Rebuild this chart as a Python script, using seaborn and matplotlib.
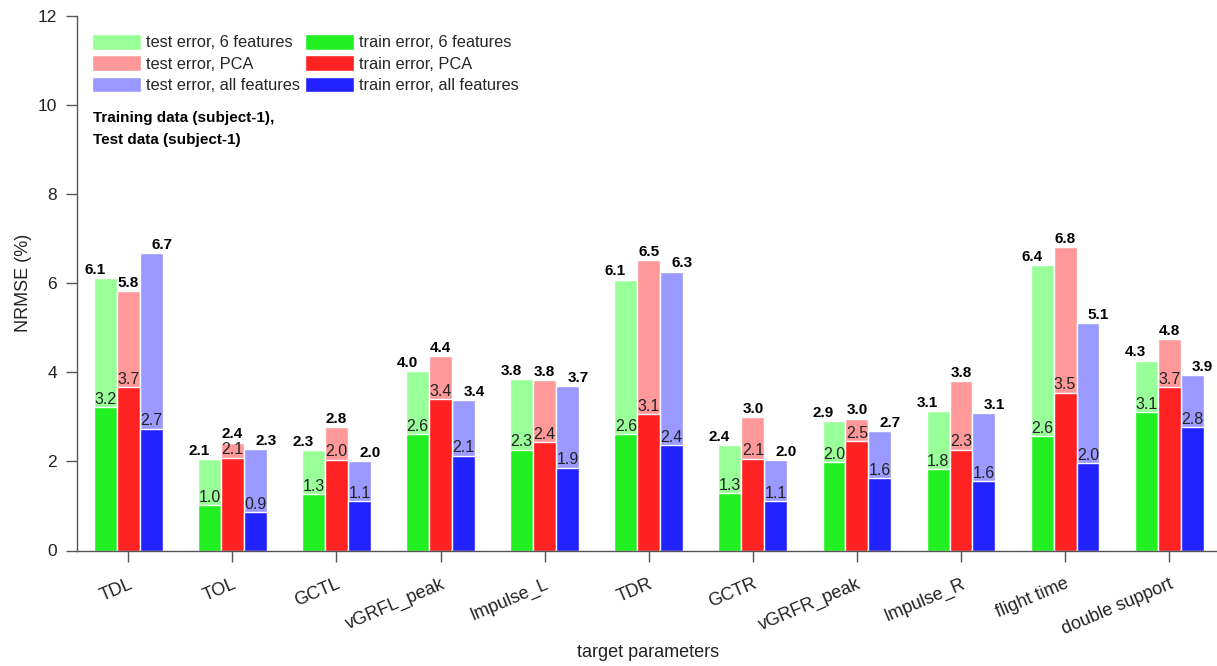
import matplotlib
matplotlib.use("Agg")
import matplotlib.pyplot as plt
import seaborn as sns
import pandas as pd

categories = ["TDL", "TOL", "GCTL", "vGRFL_peak", "Impulse_L", "TDR", "GCTR",
              "vGRFR_peak", "Impulse_R", "flight time", "double support"]

test_6 = [6.12, 2.06, 2.26, 4.02, 3.84, 6.08, 2.36, 2.90, 3.12, 6.41, 4.26]
test_pca = [5.82, 2.42, 2.76, 4.36, 3.82, 6.51, 3.00, 2.96, 3.81, 6.81, 4.75]
test_all = [6.68, 2.28, 2.01, 3.37, 3.69, 6.26, 2.03, 2.68, 3.09, 5.10, 3.93]
train_6 = [3.22, 1.02, 1.26, 2.61, 2.26, 2.61, 1.29, 1.98, 1.82, 2.56, 3.10]
train_pca = [3.66, 2.08, 2.04, 3.39, 2.43, 3.06, 2.06, 2.45, 2.26, 3.54, 3.66]
train_all = [2.73, 0.86, 1.11, 2.13, 1.86, 2.36, 1.10, 1.62, 1.56, 1.96, 2.76]

test_names = ["test error, 6 features", "test error, PCA", "test error, all features"]
train_names = ["train error, 6 features", "train error, PCA", "train error, all features"]
test_colors = ["#99ff99", "#ff9999", "#9999ff"]
train_colors = ["#22f022", "#ff2222", "#2222ff"]

def long_df(names, series):
    rows = []
    for name, vals in zip(names, series):
        for c, v in zip(categories, vals):
            rows.append({"param": c, "method": name, "value": v})
    return pd.DataFrame(rows)

df_test = long_df(test_names, [test_6, test_pca, test_all])
df_train = long_df(train_names, [train_6, train_pca, train_all])

sns.set_theme(style="white")
plt.rcParams["font.family"] = ["Liberation Sans", "DejaVu Sans"]

fig = plt.figure(figsize=(12.17, 6.66), dpi=100)
ax = fig.add_axes([77 / 1217, (666 - 550.5) / 666, (1216 - 77) / 1217, (550.5 - 15.7) / 666])

sns.barplot(data=df_test, x="param", y="value", hue="method", order=categories,
            hue_order=test_names, palette=test_colors, width=0.66, gap=0,
            edgecolor="white", linewidth=1.0, saturation=1, errorbar=None, ax=ax)
sns.barplot(data=df_train, x="param", y="value", hue="method", order=categories,
            hue_order=train_names, palette=train_colors, width=0.66, gap=0,
            edgecolor="white", linewidth=1.0, saturation=1, errorbar=None, ax=ax)

# annotations
has = ["right", "center", "left"]
for i, cont in enumerate(ax.containers[:3]):
    for bar in cont:
        h = bar.get_height()
        cx = bar.get_x() + bar.get_width() / 2
        ax.annotate(f"{h:.1f}", (cx, h), xytext=(0, 3), textcoords="offset points",
                    ha=has[i], va="baseline", fontsize=11, fontweight="bold", color="black")
for cont in ax.containers[3:6]:
    for bar in cont:
        h = bar.get_height()
        cx = bar.get_x() + bar.get_width() / 2
        ax.annotate(f"{h:.1f}", (cx, h), xytext=(0, 2.5), textcoords="offset points",
                    ha="center", va="baseline", fontsize=11.5, color="#222222")

ax.set_ylim(0, 12)
ax.set_yticks([0, 2, 4, 6, 8, 10, 12])
ax.set_xlim(-0.493, 10.45)
for s in ["top", "right"]:
    ax.spines[s].set_visible(False)
for s in ["left", "bottom"]:
    ax.spines[s].set_color("#555555")
    ax.spines[s].set_linewidth(1.0)
ax.tick_params(axis="both", direction="out", length=8, width=1, color="#555555",
               labelsize=12.5, labelcolor="#222222", bottom=True, left=True)
ax.tick_params(axis="y", pad=6.5)
ax.tick_params(axis="x", pad=10, labelsize=13)
for lab in ax.get_xticklabels():
    lab.set_rotation(23)
    lab.set_ha("right")
    lab.set_va("top")
    lab.set_rotation_mode("anchor")

ax.set_ylabel("NRMSE (%)", fontsize=13, color="#222222", labelpad=4)
ax.set_xlabel("target parameters", fontsize=13, color="#222222")
ax.xaxis.set_label_coords(0.501, -(644 - 550.5) / 534.8)

handles, labels = ax.get_legend_handles_labels()
leg = ax.legend(handles, labels, ncol=2, loc="upper left",
                bbox_to_anchor=(92 / 1217, 1 - 34 / 666), bbox_transform=fig.transFigure,
                frameon=False, fontsize=11.8, handlelength=3.0, handleheight=1.1,
                handletextpad=0.3, columnspacing=0.3, labelspacing=0.3,
                borderpad=0, borderaxespad=0)
for p in leg.get_patches():
    p.set_edgecolor("white")

fig.text(93 / 1217, 1 - 118 / 666, "Training data (subject-1),", fontsize=11,
         fontweight="bold", va="center", ha="left", color="black")
fig.text(93 / 1217, 1 - 140 / 666, "Test data (subject-1)", fontsize=11,
         fontweight="bold", va="center", ha="left", color="black")

fig.savefig("out.png", dpi=100)
